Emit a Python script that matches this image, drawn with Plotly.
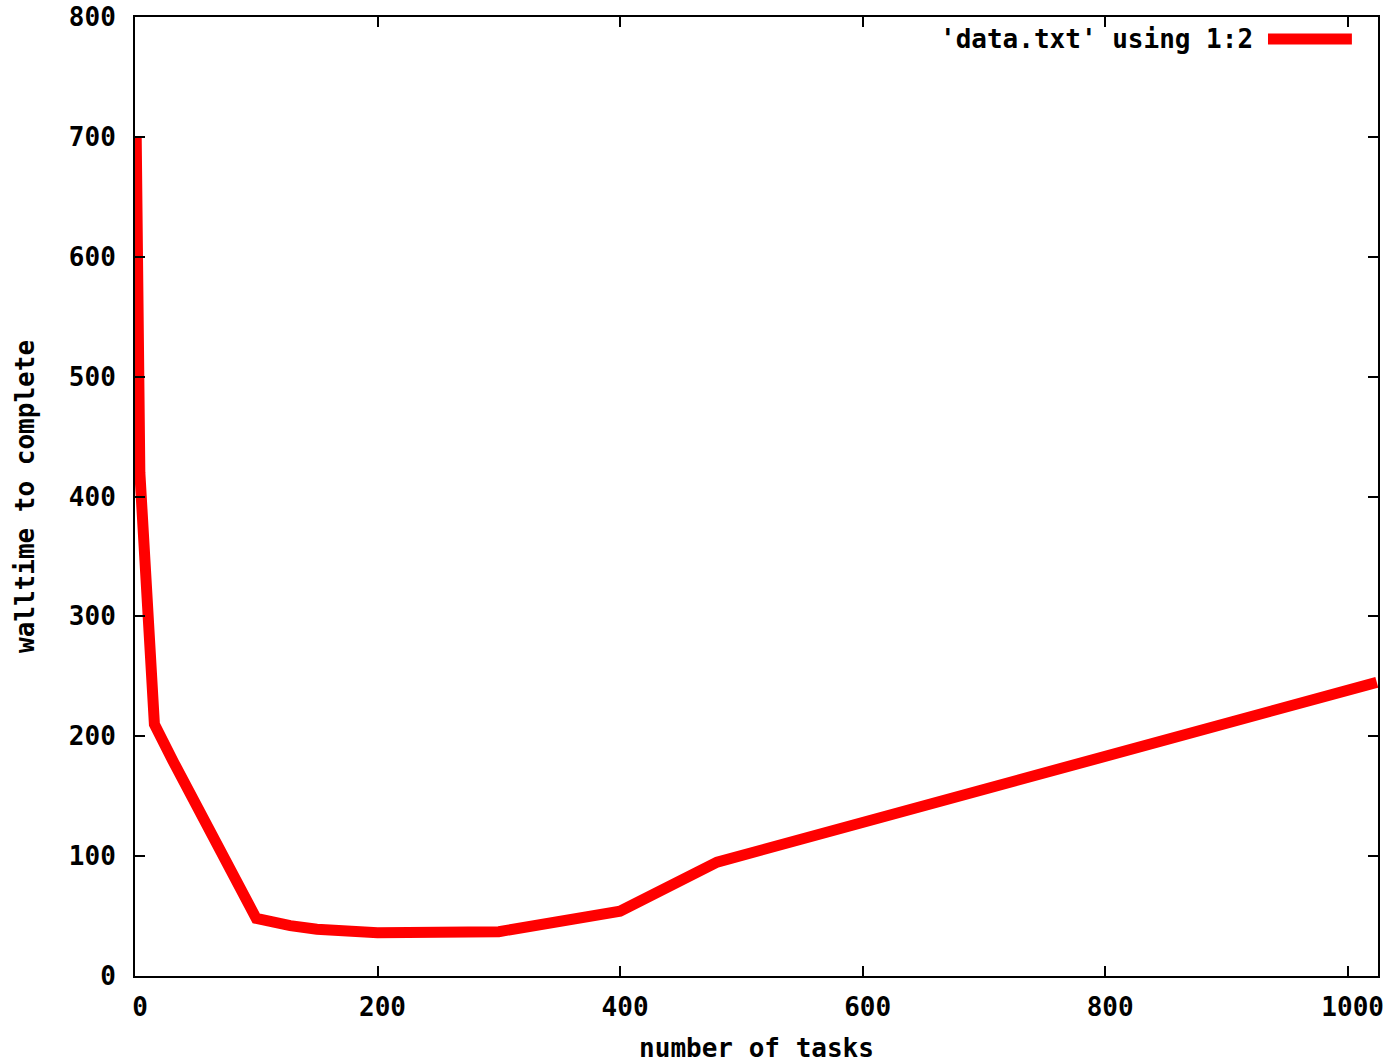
import plotly.graph_objects as go

# walltime measurements per number of tasks (columns 1:2 of data.txt)
tasks = [1, 2, 4, 8, 16, 32, 64, 100, 128, 150, 200, 256, 300, 400, 480, 1024]
walltime = [700, 575, 420, 350, 210, 178, 118, 48, 42, 39, 36, 37, 37, 54, 95, 245]

x_ticks = [0, 200, 400, 600, 800, 1000]
y_ticks = [0, 100, 200, 300, 400, 500, 600, 700, 800]

legend_label = "'data.txt' using 1:2"
line_color = "#ff0000"
font_family = "DejaVu Sans Mono"
font = dict(family=font_family, size=26, color="black", weight="bold")

fig = go.Figure()
fig.add_trace(go.Scatter(
    x=tasks, y=walltime, mode="lines",
    line=dict(color=line_color, width=11),
    name=legend_label, showlegend=False,
))

axis_common = dict(
    showline=True, linecolor="black", linewidth=2,
    mirror="allticks", ticks="inside", ticklen=10, tickwidth=1.5,
    tickcolor="black", showgrid=False, zeroline=False,
    tickfont=font, automargin=False,
)

fig.update_layout(
    width=1392, height=1063,
    margin=dict(l=135, r=14, t=17, b=87),
    paper_bgcolor="white", plot_bgcolor="white",
    xaxis=dict(
        range=[0, 1025], tickvals=x_ticks,
        ticktext=[str(v) for v in x_ticks],
        ticklabelstandoff=7, ticklabelshift=5,
        title=dict(text="number of tasks", font=font, standoff=22),
        **axis_common,
    ),
    yaxis=dict(
        range=[0, 800], tickvals=y_ticks,
        ticktext=[str(v) for v in y_ticks],
        ticklabelstandoff=12,
        title=dict(text="walltime to complete", font=font, standoff=27),
        **axis_common,
    ),
)

# key in the top-right corner: label followed by a sample of the line
key_y = 0.977
fig.add_annotation(
    xref="paper", yref="paper", x=0.901, y=key_y,
    xanchor="right", yanchor="middle", showarrow=False,
    text=legend_label, font=font,
)
fig.add_shape(
    type="line", xref="paper", yref="paper",
    x0=0.9115, x1=0.979, y0=key_y, y1=key_y,
    line=dict(color=line_color, width=11),
)

fig.write_html("out.html")
